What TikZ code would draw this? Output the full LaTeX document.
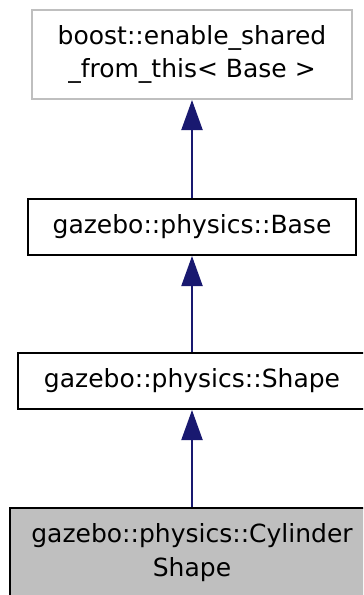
\documentclass[tikz,border=0pt]{standalone}
\usepackage{fontspec}
\setmainfont{DejaVu Sans}
\usetikzlibrary{arrows.meta}
\definecolor{edgeblue}{HTML}{191970}
\definecolor{greyline}{HTML}{BFBFBF}
\definecolor{greyfill}{HTML}{BFBFBF}
\tikzset{
  cls/.style={draw=black, line width=2bp, fill=white, rectangle, inner sep=0pt, align=center,
    font=\fontsize{25bp}{33.6bp}\selectfont},
  ext/.style={cls, draw=greyline},
  cur/.style={cls, fill=greyfill},
  inh/.style={draw=edgeblue, line width=2bp, -{Triangle[length=30bp 0, width=21bp 0]}}
}
\begin{document}
\begin{tikzpicture}[x=1bp, y=-1bp]
\useasboundingbox (0,0) rectangle (363,595);
\clip (0,0) rectangle (363,595);
\node[ext, minimum width=320bp, minimum height=89bp] (top) at (192,54.5) {boost::enable\_shared\\\_from\_this< Base >};
\node[cls, minimum width=327bp, minimum height=56bp] (base) at (192,227) {gazebo::physics::Base};
\node[cls, minimum width=348bp, minimum height=56bp] (shape) at (192,381) {gazebo::physics::Shape};
\node[cur, minimum width=364bp, minimum height=89bp] (cyl) at (192,552.5) {gazebo::physics::Cylinder\\Shape};
\draw[inh] (base.north) -- (top.south);
\draw[inh] (shape.north) -- (base.south);
\draw[inh] (cyl.north) -- (shape.south);
\end{tikzpicture}
\end{document}
